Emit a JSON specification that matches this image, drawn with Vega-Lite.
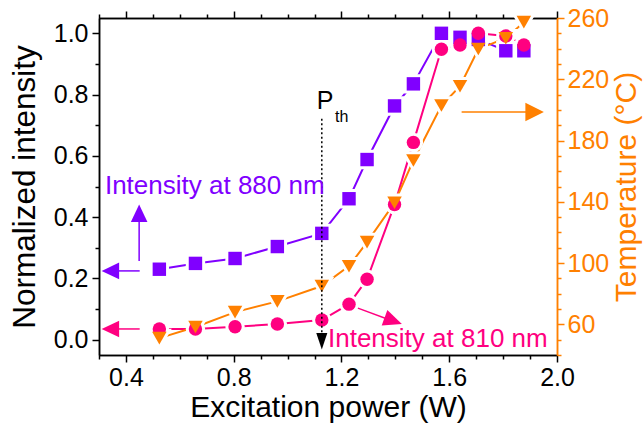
{
  "$schema": "https://vega.github.io/schema/vega-lite/v6.json",
  "width": 458,
  "height": 337,
  "autosize": "none",
  "padding": {"left": 99, "top": 18, "right": 87, "bottom": 75},
  "background": "white",
  "config": {
    "view": {"stroke": null},
    "font": "Liberation Sans",
    "axis": {
      "labelFont": "Liberation Sans",
      "titleFont": "Liberation Sans",
      "labelFontSize": 25,
      "titleFontSize": 30,
      "titleFontWeight": "normal",
      "labelColor": "#000000",
      "titleColor": "#000000",
      "domainColor": "#000000",
      "tickColor": "#000000",
      "domainWidth": 1.5,
      "tickWidth": 1.5,
      "grid": false
    }
  },
  "datasets": {
    "intensity": [
      {"s": "880", "x": 0.524, "y": 0.23},
      {"s": "880", "x": 0.658, "y": 0.249},
      {"s": "880", "x": 0.805, "y": 0.265},
      {"s": "880", "x": 0.962, "y": 0.304},
      {"s": "880", "x": 1.127, "y": 0.347},
      {"s": "880", "x": 1.228, "y": 0.46},
      {"s": "880", "x": 1.295, "y": 0.588},
      {"s": "880", "x": 1.397, "y": 0.763},
      {"s": "880", "x": 1.467, "y": 0.835},
      {"s": "880", "x": 1.571, "y": 1.0},
      {"s": "880", "x": 1.64, "y": 0.987},
      {"s": "880", "x": 1.708, "y": 0.98},
      {"s": "880", "x": 1.81, "y": 0.943},
      {"s": "880", "x": 1.877, "y": 0.943},
      {"s": "810", "x": 0.524, "y": 0.035},
      {"s": "810", "x": 0.658, "y": 0.035},
      {"s": "810", "x": 0.805, "y": 0.042},
      {"s": "810", "x": 0.962, "y": 0.051},
      {"s": "810", "x": 1.127, "y": 0.064},
      {"s": "810", "x": 1.228, "y": 0.116},
      {"s": "810", "x": 1.295, "y": 0.197},
      {"s": "810", "x": 1.397, "y": 0.441},
      {"s": "810", "x": 1.467, "y": 0.644},
      {"s": "810", "x": 1.571, "y": 0.948},
      {"s": "810", "x": 1.64, "y": 0.962},
      {"s": "810", "x": 1.708, "y": 1.0},
      {"s": "810", "x": 1.81, "y": 0.991},
      {"s": "810", "x": 1.877, "y": 0.962}
    ],
    "temp": [
      {"s": "T", "x": 0.524, "t": 51},
      {"s": "T", "x": 0.658, "t": 58.3},
      {"s": "T", "x": 0.805, "t": 68},
      {"s": "T", "x": 0.962, "t": 75},
      {"s": "T", "x": 1.127, "t": 85},
      {"s": "T", "x": 1.228, "t": 98},
      {"s": "T", "x": 1.295, "t": 113.7},
      {"s": "T", "x": 1.397, "t": 139.4},
      {"s": "T", "x": 1.467, "t": 167},
      {"s": "T", "x": 1.571, "t": 202.9},
      {"s": "T", "x": 1.64, "t": 215.5},
      {"s": "T", "x": 1.708, "t": 239.8},
      {"s": "T", "x": 1.81, "t": 246.8},
      {"s": "T", "x": 1.877, "t": 257.3}
    ],
    "arrowLines": [
      {"s": "880", "x": 0.36, "x2": 0.451, "y": 0.2245, "y2": 0.2245},
      {"s": "880", "x": 0.449, "x2": 0.449, "y": 0.257, "y2": 0.4},
      {"s": "810", "x": 0.36, "x2": 0.451, "y": 0.035, "y2": 0.035},
      {"s": "810", "x": 1.261, "x2": 1.375, "y": 0.103, "y2": 0.066}
    ],
    "arrowHeads": [
      {"s": "880", "h": "left", "x": 0.344, "y": 0.2245},
      {"s": "880", "h": "up", "x": 0.449, "y": 0.4115},
      {"s": "810", "h": "left", "x": 0.344, "y": 0.035},
      {"s": "810", "h": "diag", "x": 1.392, "y": 0.0612},
      {"s": "Pth", "h": "down", "x": 1.127, "y": -0.005}
    ],
    "pthLine": [
      {"s": "Pth", "x": 1.127, "y": 0.721, "y2": 0.02}
    ],
    "tempArrow": [
      {"s": "T", "x": 1.646, "x2": 1.89, "t": 198.6}
    ],
    "tempHead": [
      {"s": "T", "h": "right", "x": 1.9151, "t": 198.6}
    ],
    "labels": [
      {"s": "880", "x": 0.322, "y": 0.474, "label": "Intensity at 880 nm"},
      {"s": "810", "x": 1.15, "y": -0.024, "label": "Intensity at 810 nm"}
    ],
    "pLabel": [
      {"s": "Pth", "x": 1.108, "y": 0.754, "label": "P"}
    ],
    "subLabels": [
      {"s": "Pth", "x": 1.176, "y": 0.712, "label": "th"}
    ]
  },
  "resolve": {
    "scale": {"y": "independent", "shape": "independent"},
    "axis": {"x": "independent", "y": "independent"}
  },
  "layer": [
    {
      "data": {"name": "intensity"},
      "transform": [{"filter": "datum.s === '880'"}],
      "mark": {"type": "line", "strokeWidth": 2},
      "encoding": {
        "x": {"field": "x", "type": "quantitative", "scale": {"domain": [0.3, 2.0], "nice": false, "zero": false},
          "axis": {"orient": "bottom", "values": [0.4, 0.8, 1.2, 1.6, 2.0], "format": ".1f", "tickSize": 7, "labelPadding": 3, "labelFlush": false, "labelOverlap": false, "title": "Excitation power (W)", "titlePadding": 2}},
        "y": {"field": "y", "type": "quantitative", "scale": {"domain": [-0.05, 1.05], "nice": false, "zero": false},
          "axis": {"orient": "left", "values": [0, 0.2, 0.4, 0.6, 0.8, 1.0], "format": ".1f", "tickSize": 7, "labelPadding": 4, "labelFlush": false, "labelOverlap": false, "title": "Normalized intensity", "titleFontSize": 31.5, "titlePadding": 12}},
        "color": {"value": "#8000FF"}
      }
    },
    {
      "data": {"name": "intensity"},
      "transform": [{"filter": "datum.s === '810'"}],
      "mark": {"type": "line", "strokeWidth": 2},
      "encoding": {
        "x": {"field": "x", "type": "quantitative", "scale": {"domain": [0.3, 2.0], "nice": false, "zero": false},
          "axis": {"orient": "bottom", "values": [0.3, 0.5, 0.6, 0.7, 0.9, 1.0, 1.1, 1.3, 1.4, 1.5, 1.7, 1.8, 1.9], "tickSize": 4, "labels": false, "title": null}},
        "y": {"field": "y", "type": "quantitative", "scale": {"domain": [-0.05, 1.05], "nice": false, "zero": false},
          "axis": {"orient": "left", "values": [0.1, 0.3, 0.5, 0.7, 0.9], "tickSize": 4, "labels": false, "title": null}},
        "color": {"value": "#FF0080"}
      }
    },
    {
      "data": {"name": "temp"},
      "mark": {"type": "line", "strokeWidth": 2},
      "encoding": {
        "x": {"field": "x", "type": "quantitative", "scale": {"domain": [0.3, 2.0], "nice": false, "zero": false},
          "axis": {"orient": "top", "values": [0.4, 0.8, 1.2, 1.6, 2.0], "tickSize": 7, "labels": false, "title": null}},
        "y": {"field": "t", "type": "quantitative", "scale": {"domain": [40, 260], "nice": false, "zero": false},
          "axis": {"orient": "right", "values": [60, 100, 140, 180, 220, 260], "tickSize": 7, "labelPadding": 3, "labelFlush": false, "labelOverlap": false, "title": "Temperature (°C)", "titleAngle": 270, "titleBaseline": "top", "titlePadding": 3, "domainColor": "#FF8000", "tickColor": "#FF8000", "labelColor": "#FF8000", "titleColor": "#FF8000"}},
        "color": {"value": "#FF8000"}
      }
    },
    {
      "data": {"name": "intensity"},
      "mark": {"type": "point", "filled": true, "size": 180, "color": "white", "stroke": "white", "strokeWidth": 6, "opacity": 1},
      "encoding": {
        "x": {"field": "x", "type": "quantitative", "scale": {"domain": [0.3, 2.0], "nice": false, "zero": false}, "axis": null},
        "y": {"field": "y", "type": "quantitative", "scale": {"domain": [-0.05, 1.05], "nice": false, "zero": false}, "axis": null},
        "shape": {"field": "s", "type": "nominal", "scale": {"domain": ["880", "810"], "range": ["square", "circle"]}, "legend": null}
      }
    },
    {
      "data": {"name": "temp"},
      "mark": {"type": "point", "filled": true, "shape": "triangle-down", "size": 210, "color": "white", "stroke": "white", "strokeWidth": 6, "opacity": 1},
      "encoding": {
        "x": {"field": "x", "type": "quantitative", "scale": {"domain": [0.3, 2.0], "nice": false, "zero": false},
          "axis": {"orient": "top", "values": [0.3, 0.5, 0.6, 0.7, 0.9, 1.0, 1.1, 1.3, 1.4, 1.5, 1.7, 1.8, 1.9], "tickSize": 4, "labels": false, "title": null}},
        "y": {"field": "t", "type": "quantitative", "scale": {"domain": [40, 260], "nice": false, "zero": false},
          "axis": {"orient": "right", "values": [40, 50, 70, 80, 90, 110, 120, 130, 150, 160, 170, 190, 200, 210, 230, 240, 250], "tickSize": 4, "labels": false, "title": null, "domainColor": "#FF8000", "tickColor": "#FF8000"}}
      }
    },
    {
      "data": {"name": "intensity"},
      "mark": {"type": "point", "filled": true, "size": 180, "opacity": 1},
      "encoding": {
        "x": {"field": "x", "type": "quantitative", "scale": {"domain": [0.3, 2.0], "nice": false, "zero": false}, "axis": null},
        "y": {"field": "y", "type": "quantitative", "scale": {"domain": [-0.05, 1.05], "nice": false, "zero": false}, "axis": null},
        "shape": {"field": "s", "type": "nominal", "scale": {"domain": ["880", "810"], "range": ["square", "circle"]}, "legend": null},
        "color": {"field": "s", "type": "nominal", "scale": {"domain": ["880", "810", "T", "Pth"], "range": ["#8000FF", "#FF0080", "#FF8000", "#000000"]}, "legend": null}
      }
    },
    {
      "data": {"name": "temp"},
      "mark": {"type": "point", "filled": true, "shape": "triangle-down", "size": 210, "opacity": 1},
      "encoding": {
        "x": {"field": "x", "type": "quantitative", "scale": {"domain": [0.3, 2.0], "nice": false, "zero": false}, "axis": null},
        "y": {"field": "t", "type": "quantitative", "scale": {"domain": [40, 260], "nice": false, "zero": false}, "axis": null},
        "color": {"field": "s", "type": "nominal", "scale": {"domain": ["880", "810", "T", "Pth"], "range": ["#8000FF", "#FF0080", "#FF8000", "#000000"]}, "legend": null}
      }
    },
    {
      "data": {"name": "arrowLines"},
      "mark": {"type": "rule", "strokeWidth": 1.5},
      "encoding": {
        "x": {"field": "x", "type": "quantitative", "scale": {"domain": [0.3, 2.0], "nice": false, "zero": false}, "axis": null},
        "x2": {"field": "x2"},
        "y": {"field": "y", "type": "quantitative", "scale": {"domain": [-0.05, 1.05], "nice": false, "zero": false}, "axis": null},
        "y2": {"field": "y2"},
        "color": {"field": "s", "type": "nominal", "scale": {"domain": ["880", "810", "T", "Pth"], "range": ["#8000FF", "#FF0080", "#FF8000", "#000000"]}, "legend": null}
      }
    },
    {
      "data": {"name": "pthLine"},
      "mark": {"type": "rule", "strokeWidth": 1.5, "strokeDash": [2, 2.5]},
      "encoding": {
        "x": {"field": "x", "type": "quantitative", "scale": {"domain": [0.3, 2.0], "nice": false, "zero": false}, "axis": null},
        "y": {"field": "y", "type": "quantitative", "scale": {"domain": [-0.05, 1.05], "nice": false, "zero": false}, "axis": null},
        "y2": {"field": "y2"},
        "color": {"field": "s", "type": "nominal", "scale": {"domain": ["880", "810", "T", "Pth"], "range": ["#8000FF", "#FF0080", "#FF8000", "#000000"]}, "legend": null}
      }
    },
    {
      "data": {"name": "arrowHeads"},
      "mark": {"type": "point", "filled": true, "size": 340, "opacity": 1},
      "encoding": {
        "x": {"field": "x", "type": "quantitative", "scale": {"domain": [0.3, 2.0], "nice": false, "zero": false}, "axis": null},
        "y": {"field": "y", "type": "quantitative", "scale": {"domain": [-0.05, 1.05], "nice": false, "zero": false}, "axis": null},
        "shape": {"field": "h", "type": "nominal", "scale": {"domain": ["left", "up", "diag", "down"], "range": ["M-1,0L0.9,-0.9L0.9,0.9Z", "M0,-1L0.9,0.9L-0.9,0.9Z", "M0.94,0.342L-0.632,-1.188L-1.248,0.504Z", "M-0.6,-0.9L0.6,-0.9L0,0.9Z"]}, "legend": null},
        "color": {"field": "s", "type": "nominal", "scale": {"domain": ["880", "810", "T", "Pth"], "range": ["#8000FF", "#FF0080", "#FF8000", "#000000"]}, "legend": null}
      }
    },
    {
      "data": {"name": "tempArrow"},
      "mark": {"type": "rule", "strokeWidth": 1.5},
      "encoding": {
        "x": {"field": "x", "type": "quantitative", "scale": {"domain": [0.3, 2.0], "nice": false, "zero": false}, "axis": null},
        "x2": {"field": "x2"},
        "y": {"field": "t", "type": "quantitative", "scale": {"domain": [40, 260], "nice": false, "zero": false}, "axis": null},
        "color": {"field": "s", "type": "nominal", "scale": {"domain": ["880", "810", "T", "Pth"], "range": ["#8000FF", "#FF0080", "#FF8000", "#000000"]}, "legend": null}
      }
    },
    {
      "data": {"name": "tempHead"},
      "mark": {"type": "point", "filled": true, "size": 380, "opacity": 1},
      "encoding": {
        "x": {"field": "x", "type": "quantitative", "scale": {"domain": [0.3, 2.0], "nice": false, "zero": false}, "axis": null},
        "y": {"field": "t", "type": "quantitative", "scale": {"domain": [40, 260], "nice": false, "zero": false}, "axis": null},
        "shape": {"field": "h", "type": "nominal", "scale": {"domain": ["right"], "range": ["M1,0L-0.9,-0.95L-0.9,0.95Z"]}, "legend": null},
        "color": {"field": "s", "type": "nominal", "scale": {"domain": ["880", "810", "T", "Pth"], "range": ["#8000FF", "#FF0080", "#FF8000", "#000000"]}, "legend": null}
      }
    },
    {
      "data": {"name": "labels"},
      "mark": {"type": "text", "align": "left", "baseline": "alphabetic", "fontSize": 26, "font": "Liberation Sans"},
      "encoding": {
        "x": {"field": "x", "type": "quantitative", "scale": {"domain": [0.3, 2.0], "nice": false, "zero": false}, "axis": null},
        "y": {"field": "y", "type": "quantitative", "scale": {"domain": [-0.05, 1.05], "nice": false, "zero": false}, "axis": null},
        "text": {"field": "label"},
        "color": {"field": "s", "type": "nominal", "scale": {"domain": ["880", "810", "T", "Pth"], "range": ["#8000FF", "#FF0080", "#FF8000", "#000000"]}, "legend": null}
      }
    },
    {
      "data": {"name": "pLabel"},
      "mark": {"type": "text", "align": "left", "baseline": "alphabetic", "fontSize": 25, "font": "Liberation Sans"},
      "encoding": {
        "x": {"field": "x", "type": "quantitative", "scale": {"domain": [0.3, 2.0], "nice": false, "zero": false}, "axis": null},
        "y": {"field": "y", "type": "quantitative", "scale": {"domain": [-0.05, 1.05], "nice": false, "zero": false}, "axis": null},
        "text": {"field": "label"},
        "color": {"field": "s", "type": "nominal", "scale": {"domain": ["880", "810", "T", "Pth"], "range": ["#8000FF", "#FF0080", "#FF8000", "#000000"]}, "legend": null}
      }
    },
    {
      "data": {"name": "subLabels"},
      "mark": {"type": "text", "align": "left", "baseline": "alphabetic", "fontSize": 16, "font": "Liberation Sans"},
      "encoding": {
        "x": {"field": "x", "type": "quantitative", "scale": {"domain": [0.3, 2.0], "nice": false, "zero": false}, "axis": null},
        "y": {"field": "y", "type": "quantitative", "scale": {"domain": [-0.05, 1.05], "nice": false, "zero": false}, "axis": null},
        "text": {"field": "label"},
        "color": {"field": "s", "type": "nominal", "scale": {"domain": ["880", "810", "T", "Pth"], "range": ["#8000FF", "#FF0080", "#FF8000", "#000000"]}, "legend": null}
      }
    }
  ]
}
